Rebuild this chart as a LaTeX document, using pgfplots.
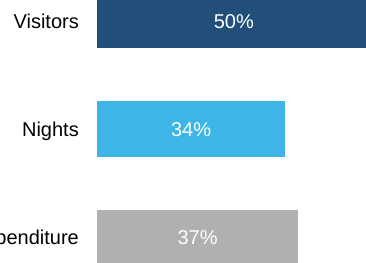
\documentclass[border=0pt]{standalone}
\usepackage{pgfplots}
\pgfplotsset{compat=1.18}
\usepackage{fontspec}
\setmainfont{Liberation Sans}
\definecolor{cVis}{HTML}{214F7A}
\definecolor{cNig}{HTML}{3DB5E6}
\definecolor{cExp}{HTML}{B1B0AE}
\begin{document}
\begin{tikzpicture}
\path[use as bounding box] (0,0) rectangle (366bp,263bp);
\clip (0,0) rectangle (366bp,263bp);
\begin{axis}[
 at={(97bp,-28.3bp)}, anchor=south west, scale only axis,
 width=271bp, height=324.6bp,
 xmin=0, xmax=50, ymin=-0.5, ymax=2.5,
 clip=false,
 axis line style={draw=none}, tick style={draw=none},
 xtick=\empty,
 ytick={0,1,2}, yticklabels={Expenditure,Nights,Visitors},
 yticklabel style={anchor=base east, inner sep=0pt, xshift=-18bp, yshift=-7.2bp, font=\fontsize{20bp}{24bp}\selectfont, text=black},
]
\addplot[xbar, bar width=55bp, bar shift=0pt, fill=cVis, draw=none] coordinates {(50.5,2)};
\addplot[xbar, bar width=55bp, bar shift=0pt, fill=cNig, draw=none] coordinates {(34.7,1)};
\addplot[xbar, bar width=55bp, bar shift=0pt, fill=cExp, draw=none] coordinates {(37.1,0)};
\addplot[draw=none, mark=none, nodes near coords, point meta=explicit symbolic,
  every node near coord/.style={anchor=base, inner sep=0pt, yshift=-7.2bp, text=white, font=\fontsize{20bp}{24bp}\selectfont}]
  coordinates {(25.25,2) [50\%] (17.35,1) [34\%] (18.55,0) [37\%]};
\end{axis}
\end{tikzpicture}
\end{document}
